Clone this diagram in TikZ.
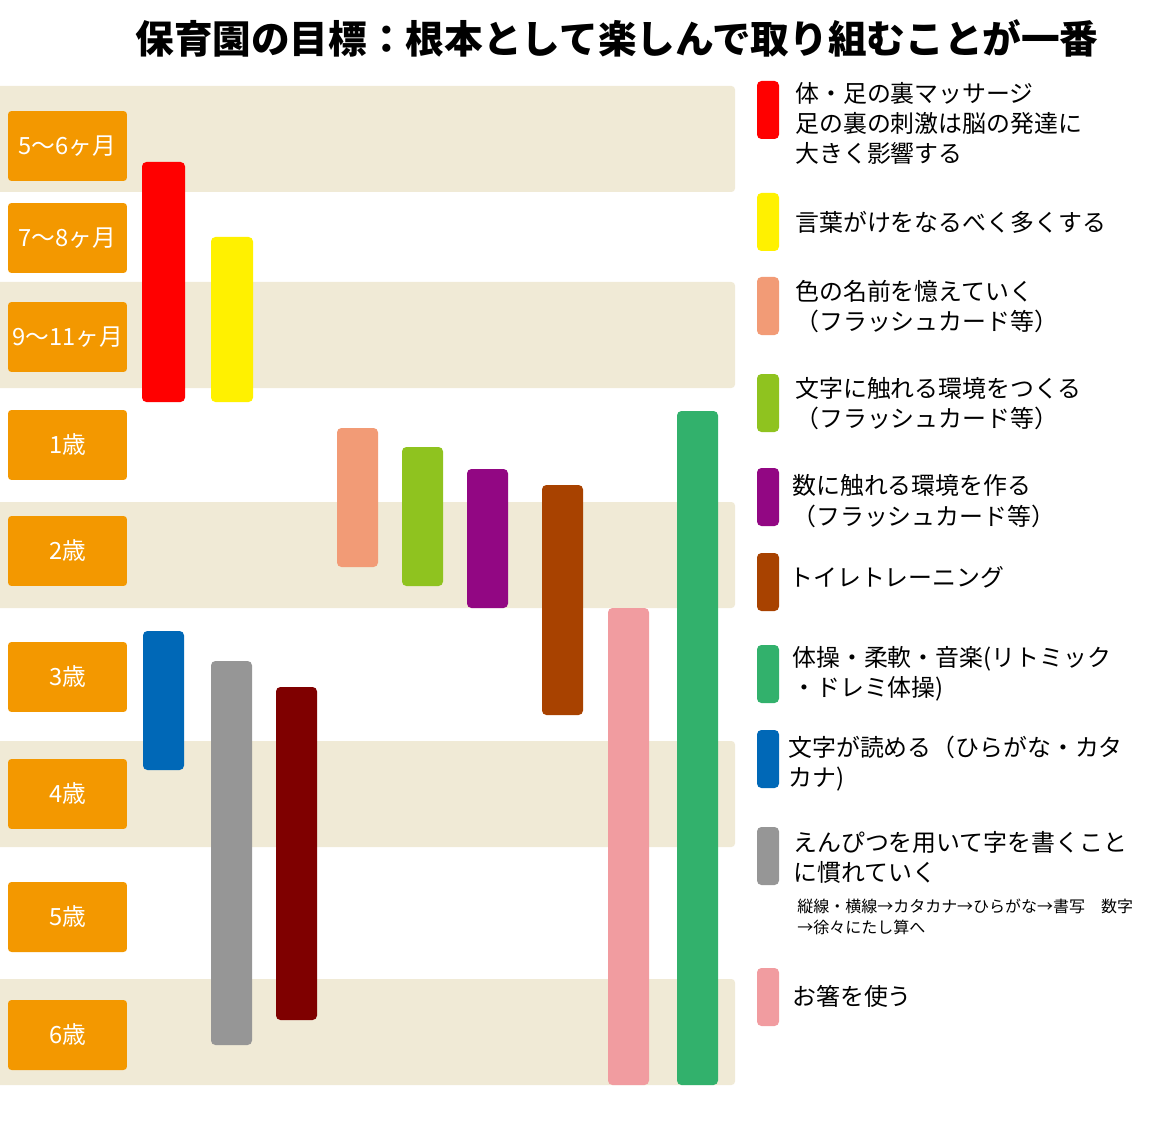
\documentclass[tikz,border=0pt]{standalone}
\usepackage{fontspec}
\newfontfamily\jpfont{Noto Sans CJK JP}
\usetikzlibrary{positioning}
\definecolor{bandbg}{HTML}{F0EAD6}
\definecolor{ageorange}{HTML}{F39800}
\definecolor{cred}{HTML}{FF0000}
\definecolor{cyellow}{HTML}{FFF100}
\definecolor{csalmon}{HTML}{F29B76}
\definecolor{clime}{HTML}{8FC31F}
\definecolor{cpurple}{HTML}{920783}
\definecolor{cbrown}{HTML}{A84200}
\definecolor{cpink}{HTML}{F19CA0}
\definecolor{cgreen}{HTML}{32B16C}
\definecolor{cblue}{HTML}{0068B7}
\definecolor{cgray}{HTML}{969696}
\definecolor{cdarkred}{HTML}{7F0000}

\begin{document}
\begin{tikzpicture}[x=0.02cm, y=-0.02cm,
  agebox/.style={fill=ageorange, rounded corners=2pt, text=white, inner sep=0pt,
    minimum width=2.38cm, minimum height=1.4cm, font=\jpfont\fontsize{13.5}{16}\selectfont},
  bar/.style={rounded corners=2.5pt},
  legtext/.style={anchor=base west, inner sep=0pt, align=left,
    font=\jpfont\fontsize{13.6}{17.3}\selectfont},
  smalltext/.style={anchor=base west, inner sep=0pt, align=left,
    font=\jpfont\fontsize{9.1}{11.9}\selectfont}]
  \useasboundingbox (0,0) rectangle (1153,1125);
  % title
  \node[font=\jpfont\bfseries\fontsize{22}{24}\selectfont] (title) at (617,38)
    {保育園の目標：根本として楽しんで取り組むことが一番};
  % background bands
  \foreach \y in {86,282,502,741,979}
    \fill[bandbg, rounded corners=2pt] (-10,\y) rectangle (735,\y+106);
  % age labels
  \node[agebox] (m56) at (67.5,146) {5〜6ヶ月};
  \node[agebox] (m78) at (67.5,238) {7〜8ヶ月};
  \node[agebox] (m911) at (67.5,337) {9〜11ヶ月};
  \node[agebox] (y1) at (67.5,445) {1歳};
  \node[agebox] (y2) at (67.5,551) {2歳};
  \node[agebox] (y3) at (67.5,677) {3歳};
  \node[agebox] (y4) at (67.5,794) {4歳};
  \node[agebox] (y5) at (67.5,917) {5歳};
  \node[agebox] (y6) at (67.5,1035) {6歳};
  % bars
  \fill[cred, bar] (142,162) rectangle (185,402);
  \fill[cyellow, bar] (211,237) rectangle (253,402);
  \fill[csalmon, bar] (337,428) rectangle (378,567);
  \fill[clime, bar] (402,447) rectangle (443,586);
  \fill[cpurple, bar] (467,469) rectangle (508,608);
  \fill[cbrown, bar] (542,485) rectangle (583,715);
  \fill[cpink, bar] (608,608) rectangle (649,1085);
  \fill[cgreen, bar] (677,411) rectangle (718,1085);
  \fill[cblue, bar] (143,631) rectangle (184,770);
  \fill[cgray, bar] (211,661) rectangle (252,1045);
  \fill[cdarkred, bar] (276,687) rectangle (317,1020);
  % legend swatches
  \fill[cred, bar] (757,81) rectangle (779,139);
  \fill[cyellow, bar] (757,193) rectangle (779,251);
  \fill[csalmon, bar] (757,277) rectangle (779,335);
  \fill[clime, bar] (757,374) rectangle (779,432);
  \fill[cpurple, bar] (757,468) rectangle (779,526);
  \fill[cbrown, bar] (757,553) rectangle (779,611);
  \fill[cgreen, bar] (757,645) rectangle (779,703);
  \fill[cblue, bar] (757,730) rectangle (779,788);
  \fill[cgray, bar] (757,827) rectangle (779,885);
  \fill[cpink, bar] (757,968) rectangle (779,1026);
  % legend texts (base = last line)
  \node[legtext] (lmassage) at (795,163) {体・足の裏マッサージ\\足の裏の刺激は脳の発達に\\大きく影響する};
  \node[legtext] (lwords) at (795,232) {言葉がけをなるべく多くする};
  \node[legtext] (lcolor) at (795,330.5) {色の名前を憶えていく\\（フラッシュカード等）};
  \node[legtext] (lletters) at (795,427.5) {文字に触れる環境をつくる\\（フラッシュカード等）};
  \node[legtext] (lnumbers) at (792,525) {数に触れる環境を作る\\（フラッシュカード等）};
  \node[legtext] (ltoilet) at (789,586) {トイレトレーニング};
  \node[legtext] (lgym) at (792,696.5) {体操・柔軟・音楽(リトミック\\・ドレミ体操)};
  \node[legtext] (lread) at (788,786.5) {文字が読める（ひらがな・カタ\\カナ)};
  \node[legtext] (lwrite) at (793,881.5) {えんぴつを用いて字を書くこと\\に慣れていく};
  \node[smalltext] (lsteps) at (797,933) {縦線・横線→カタカナ→ひらがな→書写　数字\\→徐々にたし算へ};
  \node[legtext] (lchop) at (792,1005) {お箸を使う};
\end{tikzpicture}
\end{document}
